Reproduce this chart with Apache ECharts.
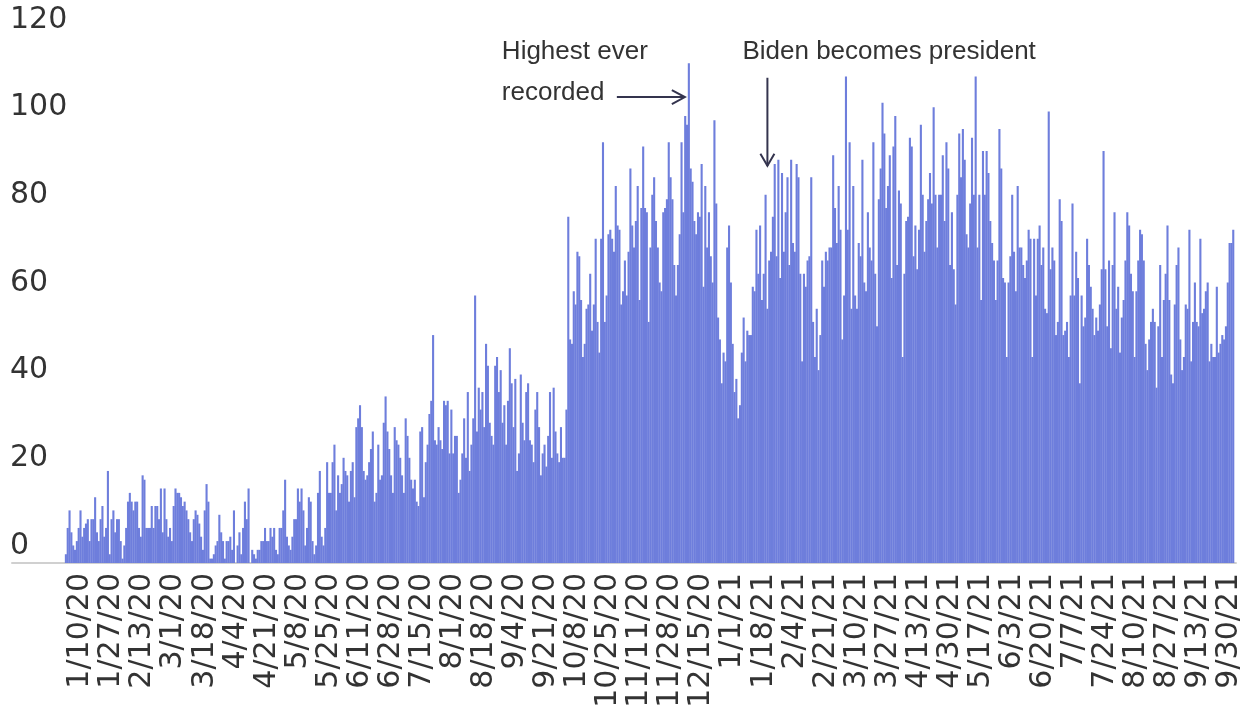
<!DOCTYPE html>
<html><head><meta charset="utf-8">
<script src="https://cdn.jsdelivr.net/npm/echarts@6/dist/echarts.min.js"></script>
<style>html,body{margin:0;padding:0;background:#fff;}#c{width:1249px;height:709px;}</style>
</head><body><div id="c"></div>
<script>
// ---- axis extent & labels ----
const axisStart = '2019-12-04';
const axisEnd = '2021-10-03';
const firstDataDay = '2020-01-02';
const firstTickLabel = '2020-01-10';
const tickEveryDays = 17;
const yMin = 0, yMax = 120, yStep = 20;

// ---- daily values ----
const jan2_mar15_2020 = [2,8,12,7,4,3,5,8,12,6,8,9,10,5,10,10,15,7,5,10,13,6,8,21,2,10,12,7,10,10,5,1,4,8,14,16,14,12,14,14,8,6,20,19,8,8,8,13,8,13,13,10,17,7,17,10,6,8,5,13,17,16,16,15,13,14,12,10,7,5,10,12,11,9];
const mar16_may25_2020 = [6,3,12,18,14,1,1,2,4,5,11,7,5,1,5,5,6,3,12,0,4,7,2,8,14,10,17,0,3,2,1,3,3,5,5,8,5,5,8,6,8,3,2,8,8,12,19,6,4,3,6,10,10,17,14,17,12,4,8,15,14,5,2,4,16,21,6,4,8,23,16];
const may26_jul28_2020 = [16,23,27,12,20,16,18,24,21,20,14,21,23,15,31,33,36,31,21,19,20,23,26,30,14,16,27,19,20,32,38,30,26,20,16,31,28,27,24,20,16,33,29,24,19,17,19,14,13,30,31,15,23,27,34,37,52,28,27,31,28,26,37,36];
const jul29_sep30_2020 = [37,25,35,25,29,29,16,19,25,33,24,39,21,27,33,61,30,40,35,39,31,50,45,32,29,27,45,47,39,44,32,36,27,37,49,41,31,42,21,25,43,32,28,39,41,28,27,23,35,39,31,20,25,27,22,29,39,24,40,30,25,23,31,24];
const oct1_nov22_2020 = [24,35,79,51,50,62,59,71,70,60,47,50,58,59,66,53,59,74,55,48,74,96,55,61,75,76,74,71,86,77,76,59,62,69,61,71,90,77,72,78,86,60,81,95,81,80,55,72,84,88,78,72,64];
const nov23_2020_jan10_2021 = [62,80,81,83,96,88,83,68,61,68,75,96,80,102,100,114,90,87,78,75,80,79,91,63,86,72,80,70,64,101,82,56,51,41,48,46,72,77,64,50,39,42,33,36,48,56,46,53,52];
const jan11_mar3_2021 = [52,63,62,76,66,77,60,66,84,58,69,71,79,91,70,92,65,89,71,80,88,68,92,73,71,91,88,66,46,66,63,69,70,88,55,47,58,44,52,69,63,71,69,72,72,93,81,73,86,76,51,61];
const mar4_apr24_2021 = [111,76,96,58,86,61,58,73,70,92,64,62,80,72,69,96,66,54,83,90,105,98,81,86,93,65,95,102,68,85,82,47,66,78,79,97,95,70,77,67,76,100,84,71,78,83,89,82,104,84,72,84];
const apr25_jun15_2021 = [84,93,78,96,90,68,80,67,59,84,98,88,99,92,75,72,82,97,84,111,72,84,60,94,84,94,89,78,73,69,60,69,99,90,65,64,47,64,70,84,71,62,86,72,72,68,65,69,76,74,47,74];
const jun16_aug9_2021 = [61,74,77,68,72,58,57,103,67,72,69,52,55,83,78,52,53,55,47,61,82,61,71,65,41,61,54,56,74,68,63,58,52,56,53,59,67,94,67,54,69,49,68,80,58,63,48,56,60,69,80,77,66,62,47];
const aug10_oct2_2021 = [62,69,76,75,69,50,44,51,55,58,55,40,54,68,47,60,66,77,60,43,41,59,68,72,51,44,47,59,58,76,46,55,64,55,54,74,57,58,62,64,46,50,47,47,63,48,50,52,51,54,64,73,73,76];

// ---- annotations ----
const peakDay = '2020-12-08';
const bidenDay = '2021-01-20';
const peakText = ['Highest ever', 'recorded'];
const bidenText = 'Biden becomes president';

// ---- build ----
const DAY = 86400000;
const categories = [];
for (let t = Date.parse(axisStart + 'T00:00:00Z'); t <= Date.parse(axisEnd + 'T00:00:00Z'); t += DAY) {
  categories.push(new Date(t).toISOString().slice(0, 10));
}
const values = [].concat(jan2_mar15_2020, mar16_may25_2020, may26_jul28_2020, jul29_sep30_2020,
  oct1_nov22_2020, nov23_2020_jan10_2021, jan11_mar3_2021, mar4_apr24_2021, apr25_jun15_2021,
  jun16_aug9_2021, aug10_oct2_2021);
const offset = categories.indexOf(firstDataDay);
const seriesData = categories.map((c, i) => (i >= offset && i - offset < values.length) ? values[i - offset] : null);
const labelStart = categories.indexOf(firstTickLabel);

const chart = echarts.init(document.getElementById('c'), null, {renderer: 'canvas'});
const TEXT = '#333333';
chart.setOption({
  animation: false,
  backgroundColor: '#ffffff',
  grid: {left: 12, right: 13, top: 37, bottom: 146, containLabel: false, outerBoundsMode: 'none'},
  xAxis: {
    type: 'category',
    data: categories,
    boundaryGap: true,
    axisLine: {show: true, lineStyle: {color: '#d0d0d0', width: 2}},
    axisTick: {show: false},
    splitLine: {show: false},
    axisLabel: {
      rotate: 90,
      margin: 10,
      color: TEXT,
      fontFamily: 'DejaVu Sans',
      fontSize: 30,
      interval: (i) => i >= labelStart && (i - labelStart) % tickEveryDays === 0,
      formatter: (v) => { const p = v.split('-'); return (+p[1]) + '/' + (+p[2]) + '/' + p[0].slice(2); }
    }
  },
  yAxis: {
    type: 'value',
    min: yMin, max: yMax, interval: yStep,
    axisLine: {show: false},
    axisTick: {show: false},
    splitLine: {show: false},
    axisLabel: {
      inside: false,
      align: 'left',
      margin: 2,
      verticalAlign: 'bottom',
      lineHeight: 34,
      color: TEXT,
      fontFamily: 'DejaVu Sans',
      fontSize: 30
    }
  },
  series: [{
    type: 'bar',
    data: seriesData,
    barWidth: 2.1,
    itemStyle: {color: '#6e7edc'},
    emphasis: {disabled: true}
  }]
});

function P(day, v) { return chart.convertToPixel({gridIndex: 0}, [day, v]); }
const pk = P(peakDay, 106.3);
const tipX = pk[0] - 4, tipY = pk[1];
const bd = P(bidenDay, 110.7);
const bdTip = P(bidenDay, 90.6);
const ARROW = '#34344e';
const txtTop = P(peakDay, 116.6)[1];
chart.setOption({
  graphic: [
    {type: 'polyline', shape: {points: [[tipX - 68, tipY], [tipX, tipY]]}, style: {stroke: ARROW, lineWidth: 2, fill: null}},
    {type: 'polyline', shape: {points: [[tipX - 13, tipY - 7], [tipX, tipY], [tipX - 13, tipY + 7]]}, style: {stroke: ARROW, lineWidth: 2, fill: null}},
    {type: 'polyline', shape: {points: [[bd[0], bd[1]], [bdTip[0], bdTip[1]]]}, style: {stroke: ARROW, lineWidth: 2, fill: null}},
    {type: 'polyline', shape: {points: [[bdTip[0] - 7, bdTip[1] - 12], [bdTip[0], bdTip[1]], [bdTip[0] + 7, bdTip[1] - 12]]}, style: {stroke: ARROW, lineWidth: 2, fill: null}},
    {type: 'text', x: tipX - 183, y: txtTop, style: {text: peakText[0], fill: TEXT, font: '26px "Liberation Sans"', textVerticalAlign: 'middle'}},
    {type: 'text', x: tipX - 183, y: tipY - 4, style: {text: peakText[1], fill: TEXT, font: '26px "Liberation Sans"', textVerticalAlign: 'middle'}},
    {type: 'text', x: bd[0] - 25, y: txtTop, style: {text: bidenText, fill: TEXT, font: '26px "Liberation Sans"', textVerticalAlign: 'middle'}}
  ]
});
</script></body></html>
